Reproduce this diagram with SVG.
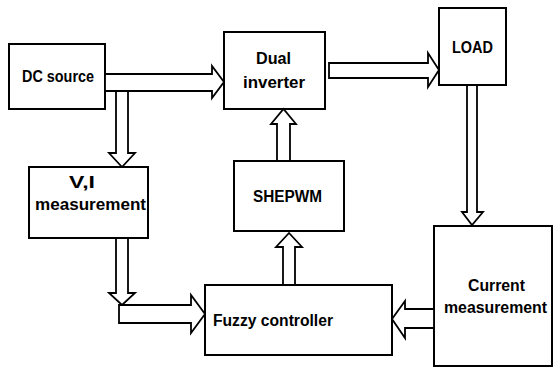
<svg xmlns="http://www.w3.org/2000/svg" width="553" height="369" viewBox="0 0 553 369">
<style>
.box{fill:#fff;stroke:#000;stroke-width:2}
.arr{fill:#fff;stroke:#000;stroke-width:1.8;stroke-linejoin:miter}
.t{font-family:"Liberation Sans","Open Sans",Arial,sans-serif;font-weight:bold;font-size:16px;fill:#000}
</style>
<rect width="553" height="369" fill="#fff"/>
<g id="dc-source">
<rect class="box" x="9" y="44" width="96" height="65"/>
<text class="t" x="22" y="82" textLength="72" lengthAdjust="spacingAndGlyphs">DC source</text>
</g>
<g id="dual-inverter">
<rect class="box" x="224" y="32" width="101" height="77"/>
<text class="t" x="256" y="64" textLength="35" lengthAdjust="spacingAndGlyphs">Dual</text>
<text class="t" x="243" y="88" textLength="62" lengthAdjust="spacingAndGlyphs">inverter</text>
</g>
<g id="load">
<rect class="box" x="439" y="8" width="67" height="77"/>
<text class="t" x="452" y="53" textLength="41" lengthAdjust="spacingAndGlyphs">LOAD</text>
</g>
<g id="vi-measurement">
<rect class="box" x="29" y="167" width="119" height="71"/>
<text class="t" x="69" y="188" textLength="26" lengthAdjust="spacingAndGlyphs">V,I</text>
<text class="t" x="35" y="210" textLength="111" lengthAdjust="spacingAndGlyphs">measurement</text>
</g>
<g id="shepwm">
<rect class="box" x="234" y="161" width="110" height="70"/>
<text class="t" x="253" y="202" textLength="69" lengthAdjust="spacingAndGlyphs">SHEPWM</text>
</g>
<g id="fuzzy-controller">
<rect class="box" x="205" y="285" width="187" height="70"/>
<text class="t" x="213" y="326" textLength="120" lengthAdjust="spacingAndGlyphs">Fuzzy controller</text>
</g>
<g id="current-measurement">
<rect class="box" x="434" y="226" width="118" height="140"/>
<text class="t" x="468" y="291" textLength="57" lengthAdjust="spacingAndGlyphs">Current</text>
<text class="t" x="444" y="313" textLength="103" lengthAdjust="spacingAndGlyphs">measurement</text>
</g>
<g id="connectors">
<polygon class="arr" points="105,74 212,74 212,66 224,82 212,98 212,91 105,91"/>
<polygon class="arr" points="116,91 128,91 128,153 135,153 122,167 109,153 116,153"/>
<polygon class="arr" points="116,238 128,238 128,293 135,293 122,305 109,293 116,293"/>
<polygon class="arr" points="119,305 191,305 191,295 205,314 191,333 191,323 119,323"/>
<polygon class="arr" points="283,285 283,247 276,247 289,233 302,247 295,247 295,285"/>
<polygon class="arr" points="277,161 277,124 271,124 283.5,109 296,124 290,124 290,161"/>
<polygon class="arr" points="329,63 428,63 428,53 439,70 428,87 428,78 329,78"/>
<polygon class="arr" points="467,85 477,85 477,212 483,212 472,225 462,212 467,212"/>
<polygon class="arr" points="434,309 405,309 405,301 392,319 405,338 405,328 434,328"/>
</g>
</svg>
